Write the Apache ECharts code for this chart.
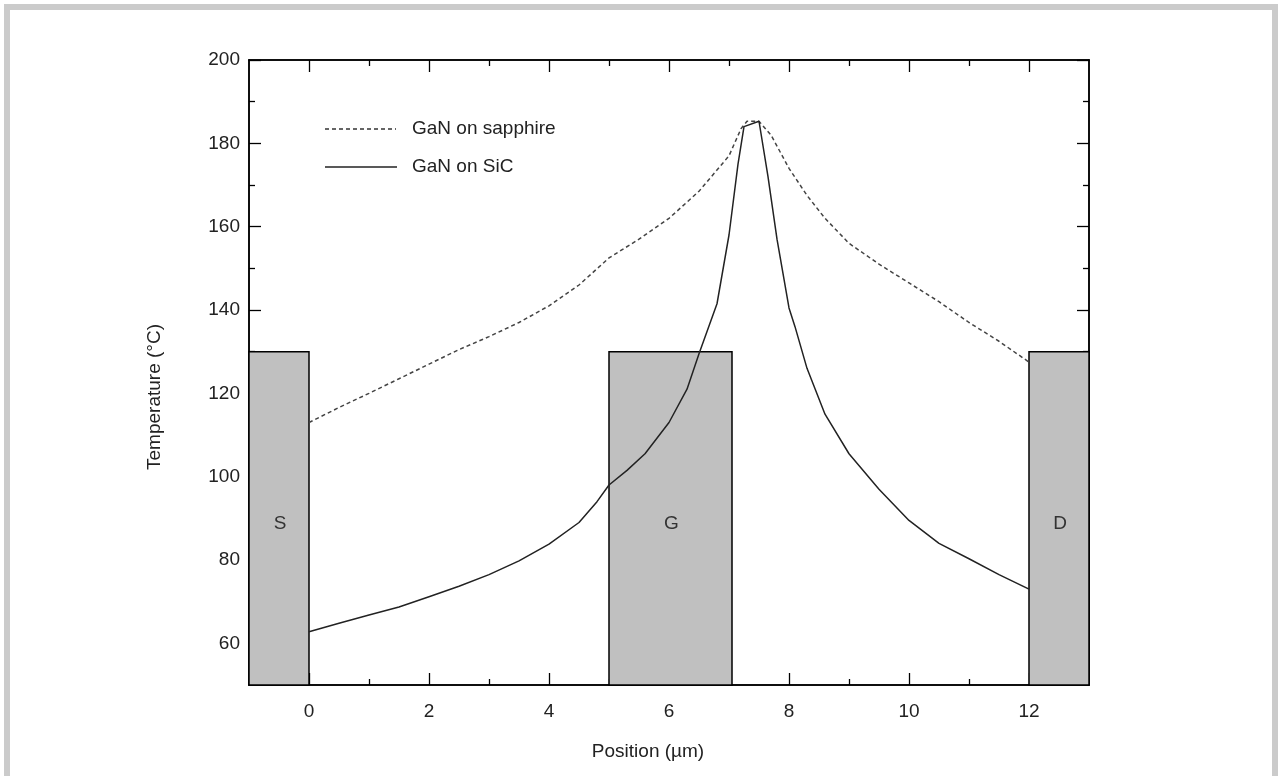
<!DOCTYPE html>
<html>
<head>
<meta charset="utf-8">
<script src="https://cdn.jsdelivr.net/npm/echarts@6/dist/echarts.min.js"></script>
<style>
html,body{margin:0;padding:0;background:#fff;}
#c{width:1282px;height:776px;}
</style>
</head>
<body>
<div id="c"></div>
<script>
// ---- data ----
const sapphireX = [0, 0.5, 1, 1.5, 2, 2.5, 3, 3.5, 4, 4.5, 5, 5.5, 6, 6.5, 7, 7.2, 7.3, 7.5, 7.7, 8, 8.3, 8.6, 9, 9.5, 10, 10.5, 11, 11.5, 12];
const sapphireY = [113, 116.6, 120, 123.5, 127, 130.5, 133.6, 137, 141, 146, 152.5, 157, 162, 168.5, 177, 183.5, 185.3, 185.3, 182, 174, 167.5, 162, 156, 151, 146.5, 142, 137, 132.5, 127.5];

const sicX = [0, 0.5, 1, 1.5, 2, 2.5, 3, 3.5, 4, 4.5, 4.8, 5, 5.3, 5.6, 6, 6.3, 6.5, 6.8, 7, 7.15, 7.25, 7.5, 7.65, 7.8, 8, 8.1, 8.3, 8.6, 9, 9.5, 10, 10.5, 11, 11.5, 12];
const sicY = [62.8, 64.8, 66.8, 68.7, 71.2, 73.7, 76.5, 79.8, 83.8, 89, 94, 98, 101.5, 105.5, 113, 121, 129.5, 141.5, 158, 175, 184, 185.3, 172, 157, 140.5, 136, 126, 115, 105.5, 97, 89.5, 84, 80.3, 76.5, 73];

const seriesNames = ['GaN on sapphire', 'GaN on SiC'];
const xTitle = 'Position (µm)';
const yTitle = 'Temperature (°C)';

const electrodeNames = ['S', 'G', 'D'];
const electrodeStart = [-1, 5, 12];
const electrodeEnd = [0, 7.05, 13];
const electrodeTop = [130, 130, 130];

const xMajorTicks = [0, 2, 4, 6, 8, 10, 12];
const xMinorTicks = [1, 3, 5, 7, 9, 11];
const yMajorTicks = [60, 80, 100, 120, 140, 160, 180, 200];
const yMinorTicks = [70, 90, 110, 130, 150, 170, 190];

// ---- build ----
const pair = (xs, ys) => xs.map((x, i) => [x, ys[i]]);
const txt = '#222';
const font = 'Liberation Sans, Arial, sans-serif';
const FS = 19;
const dashPattern = [4, 3];

function xAx(pos, ticks, len, withLabel) {
  return {
    type: 'value', min: -1, max: 13, interval: 1, position: pos,
    axisLine: { show: true, onZero: false, lineStyle: { color: '#000', width: 1.5 } },
    axisTick: { show: true, inside: true, length: len, customValues: ticks, lineStyle: { color: '#000', width: 1.3 } },
    axisLabel: withLabel ? {
      show: true, margin: 17, fontSize: FS, color: txt, fontFamily: font,
      formatter: v => (xMajorTicks.indexOf(v) >= 0 ? String(v) : '')
    } : { show: false },
    splitLine: { show: false }
  };
}
function yAx(pos, ticks, len, withLabel) {
  return {
    type: 'value', min: 50, max: 200, interval: 10, position: pos,
    axisLine: { show: true, onZero: false, lineStyle: { color: '#000', width: 1.5 } },
    axisTick: { show: true, inside: true, length: len, customValues: ticks, lineStyle: { color: '#000', width: 1.3 } },
    axisLabel: withLabel ? {
      show: true, margin: 9, fontSize: FS, color: txt, fontFamily: font,
      formatter: v => (yMajorTicks.indexOf(v) >= 0 ? String(v) : '')
    } : { show: false },
    splitLine: { show: false }
  };
}

const areas = electrodeNames.map((n, i) => [
  { name: n, xAxis: electrodeStart[i], yAxis: 50 },
  { xAxis: electrodeEnd[i], yAxis: electrodeTop[i] }
]);

const chart = echarts.init(document.getElementById('c'), null, { renderer: 'canvas' });
chart.setOption({
  backgroundColor: '#fff',
  animation: false,
  grid: { left: 249, right: 193, top: 60, bottom: 91, containLabel: false },
  xAxis: [
    xAx('bottom', xMajorTicks, 12, true),
    xAx('bottom', xMinorTicks, 6, false),
    xAx('top', xMajorTicks, 12, false),
    xAx('top', xMinorTicks, 6, false)
  ],
  yAxis: [
    yAx('left', yMajorTicks, 12, true),
    yAx('left', yMinorTicks, 6, false),
    yAx('right', yMajorTicks, 12, false),
    yAx('right', yMinorTicks, 6, false)
  ],
  graphic: [
    { type: 'rect', silent: true, z: 100,
      shape: { x: 7, y: 7, width: 1268, height: 800 },
      style: { fill: 'none', stroke: '#cbcbcb', lineWidth: 6 } },
    { type: 'text', silent: true, x: 155, y: 397, rotation: Math.PI / 2,
      style: { text: yTitle, fontSize: FS, fill: txt, fontFamily: font,
               align: 'center', verticalAlign: 'middle' } },
    { type: 'text', silent: true, x: 648, y: 752,
      style: { text: xTitle, fontSize: FS, fill: txt, fontFamily: font,
               align: 'center', verticalAlign: 'middle' } },
    // legend
    { type: 'line', silent: true, shape: { x1: 325, y1: 129, x2: 396, y2: 129 },
      style: { stroke: '#333', lineWidth: 1.5, lineDash: dashPattern } },
    { type: 'text', silent: true, x: 412, y: 129,
      style: { text: seriesNames[0], fontSize: FS, fill: txt, fontFamily: font, verticalAlign: 'middle' } },
    { type: 'line', silent: true, shape: { x1: 325, y1: 167, x2: 397, y2: 167 },
      style: { stroke: '#222', lineWidth: 1.5 } },
    { type: 'text', silent: true, x: 412, y: 167,
      style: { text: seriesNames[1], fontSize: FS, fill: txt, fontFamily: font, verticalAlign: 'middle' } }
  ],
  series: [
    {
      name: 'electrodes', type: 'line', data: [], z: 1,
      markArea: {
        silent: true,
        itemStyle: { color: '#c0c0c0', borderColor: '#000', borderWidth: 1.5 },
        label: { show: true, position: 'inside', fontSize: FS, color: '#333', fontFamily: font, offset: [1, 5] },
        data: areas
      }
    },
    {
      name: seriesNames[0], type: 'line', z: 3,
      data: pair(sapphireX, sapphireY),
      showSymbol: false, symbol: 'none', smooth: false,
      lineStyle: { color: '#444', width: 1.5, type: dashPattern }
    },
    {
      name: seriesNames[1], type: 'line', z: 4,
      data: pair(sicX, sicY),
      showSymbol: false, symbol: 'none', smooth: false,
      lineStyle: { color: '#222', width: 1.5, type: 'solid' }
    }
  ]
});
</script>
</body>
</html>
